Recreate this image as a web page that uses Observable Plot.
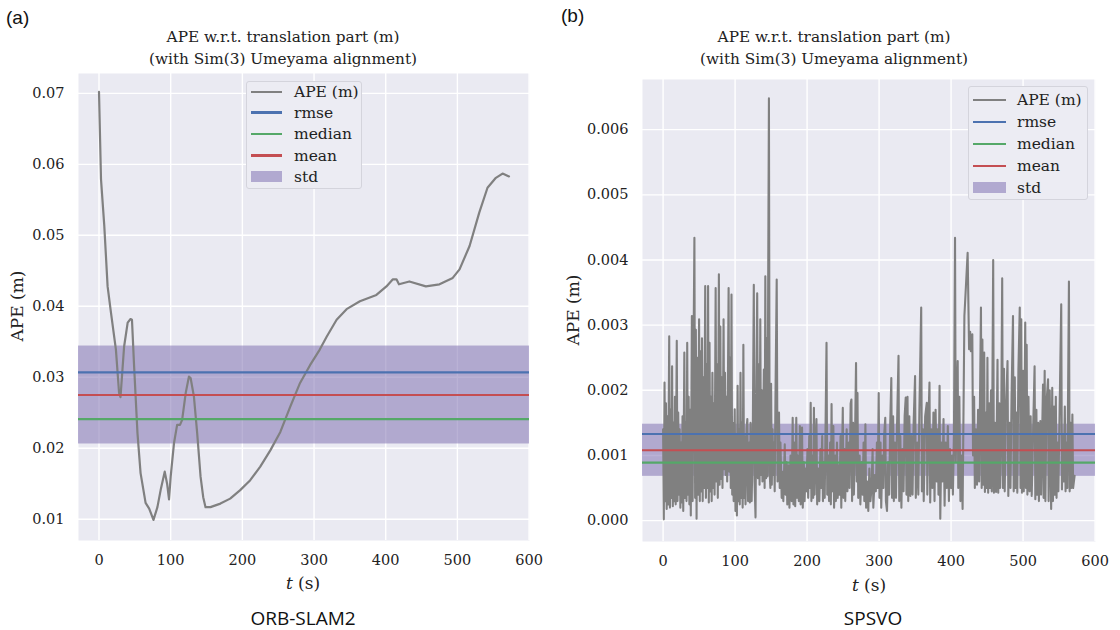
<!DOCTYPE html>
<html><head><meta charset="utf-8">
<script src="https://cdn.jsdelivr.net/npm/d3@7"></script>
<script src="https://cdn.jsdelivr.net/npm/@observablehq/plot@0.6"></script>
<style>
body{margin:0;background:#fff;}
#wrap{position:relative;width:1120px;height:630px;overflow:hidden;background:#fff;}
.abs{position:absolute;white-space:nowrap;}
.c{transform:translate(-50%,-50%);}
.serif{font-family:"DejaVu Serif",serif;color:#222;}
.panel{font-family:"Liberation Sans",Arial,sans-serif;font-size:19px;color:#111;}
.cap{font-family:"Open Sans",sans-serif;font-size:19px;color:#111;}
.title{font-size:15.3px;line-height:22px;text-align:center;}
.ylab{font-size:17px;transform:translate(-50%,-50%) rotate(-90deg);}
.xlab{font-size:17px;}
.legend{background:#ececf3;border:1px solid #d4d4dc;border-radius:3px;box-sizing:border-box;}
.sw{position:absolute;height:2.4px;}
.lt{font-size:15.5px;transform:translateY(-50%);}
svg{position:absolute;top:0;}
</style></head><body><div id="wrap"></div>
<script>
// ---------- data ----------
const xTicks = [0, 100, 200, 300, 400, 500, 600];
const xDomain = [-28.6, 600.6];

// (a) ORB-SLAM2
const orbT = [0, 2.8, 7.4, 12, 16.7, 23.6, 28, 30, 35, 40, 44, 46, 49, 53.7, 58, 65, 70, 76, 81.5, 86, 91.7, 95, 97.7, 100, 104.6, 109, 113, 116, 121, 125.5, 127.8, 132.4, 137, 141.7, 145.4, 148.6, 155.5, 169.4, 183, 197, 211, 225, 239, 253, 267, 280.5, 294.4, 308, 317.6, 331.5, 345.4, 364, 387, 401, 410, 415, 418.5, 433, 456, 475, 493.5, 503, 517, 530.5, 542, 553.7, 563, 572];
const orbV = [0.0702, 0.0579, 0.0513, 0.0428, 0.0391, 0.0339, 0.0278, 0.0272, 0.0343, 0.0377, 0.0382, 0.0381, 0.0315, 0.0221, 0.0165, 0.0123, 0.0115, 0.0099, 0.0117, 0.0141, 0.0167, 0.0150, 0.0128, 0.0160, 0.0207, 0.0233, 0.0233, 0.0240, 0.0278, 0.0301, 0.0299, 0.0273, 0.0221, 0.0160, 0.0131, 0.0117, 0.0117, 0.0122, 0.0129, 0.0141, 0.0155, 0.0174, 0.0197, 0.0223, 0.0259, 0.0292, 0.0317, 0.0339, 0.0357, 0.0381, 0.0396, 0.0407, 0.0416, 0.0428, 0.0438, 0.0438, 0.0431, 0.0435, 0.0428, 0.0431, 0.0440, 0.0452, 0.0485, 0.0532, 0.0567, 0.0581, 0.0587, 0.0583];
const orbYTicks = [0.01, 0.02, 0.03, 0.04, 0.05, 0.06, 0.07];
const orbYDomain = [0.0070, 0.0728];
const orbRmse = 0.0307, orbMedian = 0.0241, orbMean = 0.0275, orbStd = 0.0069;

// (b) SPSVO  (APE values in millimetres)
const spsvoT = [0,1,2,3,4,5,6,7,8.5,9.5,10.5,11.5,12.5,13.5,14.5,15.5,16.5,17.5,19,20,21,22,23,24,25,26,27,28,29.5,30.5,31.5,32.5,33.5,34.5,35.5,36.5,37.5,38.5,40,41,42,43.5,44.5,45.5,46.5,47.5,48.5,50,51,52,53,54,55,56,57,58.5,59.5,60.5,61.5,62.5,63.5,64.5,65.5,66.5,67.5,68.5,69.5,70.5,71.5,73,74,75,76,77.5,78.5,79.5,80.5,81.5,82.5,84,85,86,87,88,89,91,92,93,94,95,96,97,98,99.5,100.5,101.5,102.5,103.5,104.5,105.5,106.5,107.5,108.5,109.5,110.5,111.5,112.5,113.5,114.5,116,117,118,119.5,120.5,121.5,123,124.5,126,127,128.4,129.5,130.7,131.7,133,134,135,136,137,138,140,141,142,143,144,145,146,147,148,149,150,151,152,153,154,155,156,157.8,159,161,162,163,164.7,166,167,169,170,171.5,172.5,174,175.5,177,178.5,180,181,182.5,183.5,185,186,187,188.5,190,191,193,194,195.5,196.5,198,199,200.5,201.5,203,204,205,206,207.5,208.5,209.5,210.5,212,213,214,215.5,217,218.5,219.5,221,222,223.5,224.5,227,228,229.5,230.5,232,233,234,235,236.5,237.5,239,240,241.5,242.5,244,245,246.5,247.5,249.6,250.5,252,253,255,256,258,259,260.5,261.6,262.5,264,265,266.5,268,269,270,271,273,274,276,277,278.5,279.5,281,282,283.5,285,286.5,288,289.5,291,292,294,295.5,297,298,299.5,300.5,302,303,304.5,306,307,308.6,309.5,311,312.5,314,315.5,317,318,319.5,320.5,322,323.5,325,327,328,329.5,331,332.5,334,335.5,337,338,339.5,340.5,342,343.5,345,346.5,348,350,351,353,354.5,356,358.5,359.5,361,362,364,366.3,367,368.5,370,371,372.5,374,375.5,377,378.5,380,381.5,382.5,384,385,386.5,388,389.5,391,392.5,394,395.5,397,398.5,400,401.5,402.5,404,405.5,406.5,407.5,409.2,410,411.5,413,414.5,416,418.5,423,425,426.5,427.5,429.5,430.5,432,433,434.5,436,437.5,439,441.5,442.5,443.5,444.5,446,447,448.5,449.5,450.5,451.5,453,454,455.5,456.5,458.5,459.5,461,462.5,464.5,465.5,467,468,469.5,471,472,473.5,474.5,476,478.4,479.5,481,482.5,484,486,487,488.5,489.5,491,492,493.5,495.4,496.5,497.5,498.5,500,501,503,504,505,506,507.5,509,510.5,512,514,516,517,518.5,519.5,521,522,524,525,527.7,528.5,530,531,532.5,534.7,535.5,537,539,540.5,541.5,543,544,545.5,546.5,548,549,550.5,553,554,555.5,556.5,558,559,560.5,561.5,563.7,564.7,566,567,568.5,569.5,571.6];
const spsvoVmm = [1.4,0.02,2.12,0.3,1.8,0.18,1.6,0.25,2.83,0.2,1.7,0.35,2.37,0.22,1.5,0.3,1.9,0.25,2.76,0.3,1.66,0.4,1.4,0.2,1.2,0.28,1.6,0.15,2.58,0.35,1.5,0.3,2.73,0.4,1.9,0.25,1.7,0.08,3.14,0.3,2.2,4.34,0.35,2.93,0.03,2.5,0.4,3.09,0.3,2.6,0.45,2.8,0.3,2.2,0.5,3.6,0.35,2.4,0.5,3.6,0.28,2.73,0.45,1.9,0.3,2.27,0.5,1.8,0.4,3.57,0.6,2.4,0.35,3.78,0.55,2.98,0.64,2.2,0.5,3.09,0.79,2.27,0.7,1.9,0.6,3.57,0.75,2.5,0.5,3.47,0.4,1.5,0.3,1.71,0.15,1.3,0.08,2.07,0.3,1.4,0.25,2.27,0.35,1.5,0.2,2.7,0.35,1.3,0.25,1.4,1.56,0.3,1.2,0.28,1.5,0.3,1.2,3.62,0.6,0.05,2.0,3.49,0.65,2.4,0.55,3.09,0.7,2.0,0.6,2.32,0.5,3.75,0.65,2.8,0.68,3.75,6.48,0.75,0.5,2.1,0.55,1.4,0.7,1.2,0.45,1.8,3.7,0.6,1.66,0.5,1.2,0.35,0.75,0.3,1.17,0.4,0.9,0.25,0.85,0.2,1.0,0.3,1.58,0.25,1.2,0.22,1.58,0.35,1.0,0.3,1.45,0.25,1.43,0.2,0.9,0.3,0.8,0.45,1.1,0.35,1.3,0.5,1.81,0.3,1.0,0.35,1.73,0.4,1.2,1.56,0.25,0.8,0.3,1.1,0.5,1.3,0.3,0.9,0.35,2.73,0.4,1.0,0.3,1.2,0.25,1.79,0.45,1.45,0.2,1.0,0.3,1.2,0.35,0.85,0.4,1.3,0.2,1.73,0.35,1.1,0.3,1.4,0.45,1.2,0.5,1.8,1.86,0.3,1.5,0.4,1.2,2.42,0.6,1.96,0.35,1.0,0.25,0.9,0.4,1.2,0.3,1.48,0.2,0.6,0.15,0.8,0.3,0.5,1.1,0.2,0.7,0.45,1.2,0.5,1.96,0.35,1.2,0.2,1.0,0.5,1.3,1.58,0.3,0.15,0.9,0.4,1.5,2.19,0.35,1.6,0.3,1.2,0.35,1.5,2.53,0.3,1.3,0.2,1.1,0.45,1.6,1.89,0.4,1.9,0.3,1.6,0.38,1.3,0.4,1.5,2.22,0.35,1.2,0.4,1.7,3.27,0.45,1.4,0.3,1.6,1.81,0.4,1.5,2.12,0.28,1.4,0.5,1.66,0.3,1.7,0.6,1.4,0.4,2.07,0.03,1.2,0.6,1.56,0.23,1.2,0.5,1.45,0.3,1.1,0.5,1.0,0.4,1.3,4.34,0.9,1.6,2.45,0.5,1.9,0.3,1.0,0.18,3.14,4.11,2.63,2.9,2.6,2.86,1.0,1.9,0.5,1.4,0.55,1.7,0.6,3.27,0.5,2.78,0.55,2.58,0.44,1.66,0.5,2.5,0.43,1.8,0.5,2.0,0.45,4.0,0.43,1.5,0.44,2.47,0.43,1.8,0.5,1.3,3.72,0.5,2.33,0.45,1.6,2.45,0.38,1.5,0.5,1.9,3.14,0.45,2.2,0.5,1.66,0.43,2.3,3.27,0.5,3.09,0.43,2.3,0.45,3.04,0.5,2.7,0.4,1.9,0.45,1.6,0.38,1.4,2.37,0.33,1.7,0.4,1.5,0.3,1.53,0.4,2.09,0.35,2.3,0.3,1.8,2.17,0.3,2.0,0.18,2.04,0.3,1.75,0.4,1.9,0.35,1.2,0.45,1.5,3.32,0.48,1.3,0.6,1.75,0.45,1.2,0.5,3.67,0.45,1.5,0.5,1.63,0.5,0.69];
const spsvoYTicks = [0, 0.001, 0.002, 0.003, 0.004, 0.005, 0.006];
const spsvoYDomain = [-0.00032, 0.00677];
const spsvoRmse = 0.00133, spsvoMedian = 0.00089, spsvoMean = 0.00108, spsvoStd = 0.00040;

const legendLabels = ["APE (m)", "rmse", "median", "mean", "std"];
const colors = {ape: "#808080", rmse: "#4c72b0", median: "#55a868", mean: "#c44e52", std: "#8172b2"};

// ---------- chart ----------
function chart(o) {
  const rows = o.T.map((t, i) => ({t, v: o.V[i]}));
  return Plot.plot({
    width: 560, height: 630,
    marginLeft: o.ml, marginRight: o.mr, marginTop: o.mt, marginBottom: o.mb,
    x: {domain: xDomain},
    y: {domain: o.yDomain},
    style: {fontFamily: "DejaVu Serif", fontSize: "14.5px", color: "#222", background: "transparent", overflow: "visible"},
    marks: [
      Plot.frame({fill: "#eaeaf2", stroke: "none"}),
      Plot.gridX(xTicks, {stroke: "#ffffff", strokeOpacity: 1, strokeWidth: 1.4}),
      Plot.gridY(o.yTicks, {stroke: "#ffffff", strokeOpacity: 1, strokeWidth: 1.4}),
      Plot.rect([{y1: o.mean - o.std, y2: o.mean + o.std}], {x1: () => xDomain[0], x2: () => xDomain[1], y1: "y1", y2: "y2", fill: colors.std, fillOpacity: 0.55}),
      Plot.line(rows, {x: "t", y: "v", stroke: colors.ape, strokeWidth: o.lw}),
      Plot.ruleY([o.rmse], {stroke: colors.rmse, strokeWidth: 2.2}),
      Plot.ruleY([o.median], {stroke: colors.median, strokeWidth: 2.2}),
      Plot.ruleY([o.mean], {stroke: colors.mean, strokeWidth: 2.2}),
      Plot.axisX(xTicks, {tickSize: 0, tickPadding: 14, label: null}),
      Plot.axisY(o.yTicks, {tickSize: 0, tickPadding: 14, tickFormat: o.fmt, label: null})
    ]
  });
}

const wrap = document.getElementById("wrap");
const a = chart({T: orbT, V: orbV, yDomain: orbYDomain, yTicks: orbYTicks, fmt: d3.format(".2f"),
  rmse: orbRmse, median: orbMedian, mean: orbMean, std: orbStd, ml: 78, mr: 31, mt: 73, mb: 90, lw: 2.2});
a.style.left = "0px";
wrap.appendChild(a);
const b = chart({T: spsvoT, V: spsvoVmm.map(v => v / 1000), yDomain: spsvoYDomain, yTicks: spsvoYTicks, fmt: d3.format(".3f"),
  rmse: spsvoRmse, median: spsvoMedian, mean: spsvoMean, std: spsvoStd, ml: 82, mr: 25, mt: 79, mb: 89, lw: 2.1});
b.style.left = "560px";
wrap.appendChild(b);

function add(html, cls, css) {
  const d = document.createElement("div");
  d.className = "abs " + cls;
  d.innerHTML = html;
  Object.assign(d.style, css);
  wrap.appendChild(d);
  return d;
}
// panel letters
add("(a)", "panel", {left: "6px", top: "7px"});
add("(b)", "panel", {left: "561px", top: "5px"});
// titles
const title = "APE w.r.t. translation part (m)<br>(with Sim(3) Umeyama alignment)";
add(title, "serif title c", {left: "283px", top: "48px"});
add(title, "serif title c", {left: "834px", top: "48px"});
// y labels
add("APE (m)", "serif ylab", {left: "17px", top: "306px"});
add("APE (m)", "serif ylab", {left: "573px", top: "310px"});
// x labels
add("<i>t</i> (s)", "serif xlab c", {left: "303px", top: "583px"});
add("<i>t</i> (s)", "serif xlab c", {left: "869px", top: "585px"});
// captions
add("ORB-SLAM2", "cap c", {left: "303px", top: "618px"});
add("SPSVO", "cap c", {left: "873px", top: "618px"});

// legends
function legend(x, y, w, h, rowY, swX, swW, labX) {
  add("", "legend", {left: x + "px", top: y + "px", width: w + "px", height: h + "px"});
  const cols = [colors.ape, colors.rmse, colors.median, colors.mean];
  legendLabels.forEach((lab, i) => {
    if (i < 4) {
      add("", "sw", {left: swX + "px", top: (rowY[i] - 1.2) + "px", width: swW + "px", background: cols[i]});
    } else {
      add("", "sw", {left: swX + "px", top: (rowY[i] - 5.5) + "px", width: swW + "px", height: "11px", background: colors.std, opacity: 0.55});
    }
    add(lab, "serif lt", {left: labX + "px", top: rowY[i] + "px"});
  });
}
legend(246, 81, 116, 108, [91.7, 112.5, 134, 155.5, 176.7], 251, 31, 294);
legend(968, 86, 120, 114, [100, 122, 144, 166, 187.7], 973, 33, 1017);
</script></body></html>
